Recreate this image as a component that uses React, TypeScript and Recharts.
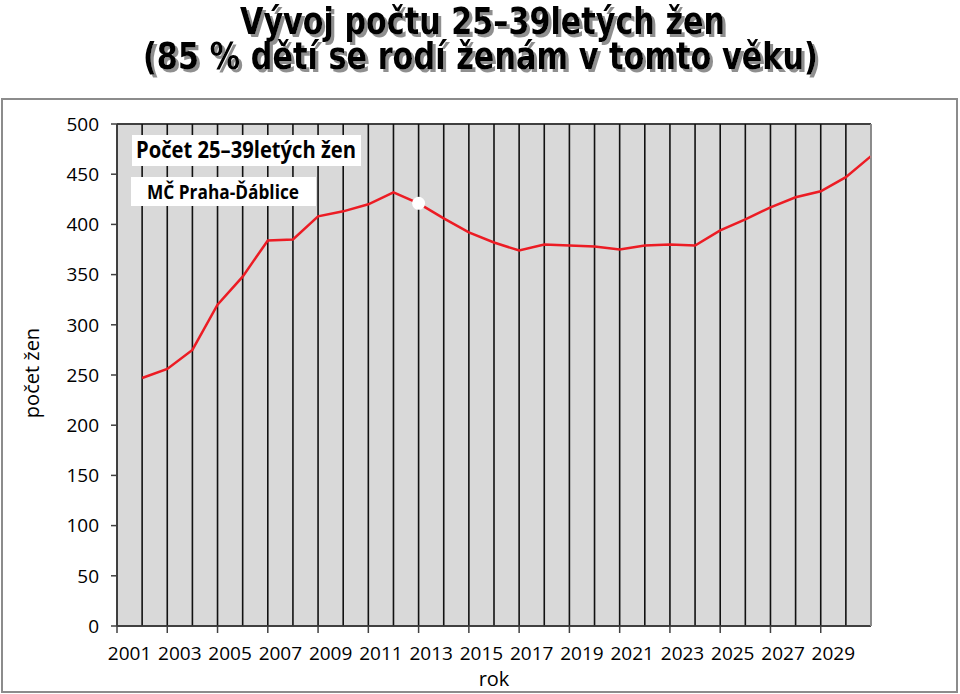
import React from 'react';
import { LineChart, Line, XAxis, YAxis, CartesianGrid, Label } from 'recharts';

// ---- data ----
const YEARS: number[] = [
  2002, 2003, 2004, 2005, 2006, 2007, 2008, 2009, 2010, 2011,
  2012, 2013, 2014, 2015, 2016, 2017, 2018, 2019, 2020, 2021,
  2022, 2023, 2024, 2025, 2026, 2027, 2028, 2029, 2030, 2031,
];
const WOMEN_25_39: number[] = [
  247, 256, 275, 320, 348, 384, 385, 408, 413, 420,
  432, 421, 406, 392, 382, 374, 380, 379, 378, 375,
  379, 380, 379, 394, 405, 417, 427, 433, 447, 468,
];
const HIGHLIGHT_YEAR = 2013;
const X_LABELS: number[] = [
  2001, 2003, 2005, 2007, 2009, 2011, 2013, 2015, 2017, 2019,
  2021, 2023, 2025, 2027, 2029,
];
const Y_TICKS: number[] = [0, 50, 100, 150, 200, 250, 300, 350, 400, 450, 500];
const X_MIN = 2001;
const X_MAX = 2031;

const TITLE_1 = 'Vývoj počtu 25–39letých žen';
const TITLE_2 = '(85 % dětí se rodí ženám v tomto věku)';
const BOX_1 = 'Počet 25–39letých žen';
const BOX_2 = 'MČ Praha-Ďáblice';
const Y_LABEL = 'počet žen';
const X_LABEL = 'rok';

const data = YEARS.map((year, i) => ({ year, value: WOMEN_25_39[i] }));
const gridYears: number[] = [];
for (let y = X_MIN; y <= X_MAX; y++) gridYears.push(y);

// ---- layout ----
const W = 960;
const H = 694;
const MARGIN = { top: 124, right: 29, bottom: 8, left: 17 };
const LEFT_AXIS_W = 100;
const RIGHT_AXIS_W = 60;
const X_AXIS_H = 60;
const PLOT_W = W - MARGIN.left - MARGIN.right - LEFT_AXIS_W - RIGHT_AXIS_W;
const HALF_CAT = PLOT_W / (X_MAX - X_MIN) / 2;

const FONT = '"Open Sans", sans-serif';
const TICK_FS = 19;

const XTick = (props: any) => {
  const { x, y, payload } = props;
  const t = payload?.value;
  if (!X_LABELS.includes(t)) return <g />;
  return (
    <g>
      <line x1={x} y1={y} x2={x} y2={y + 7} stroke="#404040" strokeWidth={1.5} />
      <text x={x + HALF_CAT} y={y + 34} textAnchor="middle" fontFamily={FONT} fontSize={TICK_FS} fill="#000">
        {t}
      </text>
    </g>
  );
};

const renderDot = (props: any) => {
  const { cx, cy, payload, index } = props;
  if (payload && payload.year === HIGHLIGHT_YEAR) {
    return <circle key={`d${index}`} cx={cx} cy={cy} r={6.5} fill="#ffffff" stroke="none" />;
  }
  return <g key={`d${index}`} />;
};

export default function App() {
  return (
    <div style={{ position: 'absolute', left: 0, top: 0, width: W, height: H, background: '#fff' }}>
      <div
        style={{
          position: 'absolute',
          left: 1,
          top: 98,
          width: 957,
          height: 595,
          boxSizing: 'border-box',
          border: '2px solid #8c8c8c',
        }}
      />
      <div style={{ position: 'absolute', left: 0, top: 0 }}>
        <LineChart width={W} height={H} data={data} margin={MARGIN}>
          <CartesianGrid
            fill="#d9d9d9"
            vertical={false}
            stroke="#404040"
            strokeWidth={2}
            strokeOpacity={1}
          />
          <CartesianGrid
            horizontal={false}
            stroke="#111111"
            strokeWidth={1.6}
            fillOpacity={0}
          />
          <XAxis
            dataKey="year"
            type="number"
            domain={[X_MIN, X_MAX]}
            ticks={gridYears}
            interval={0}
            height={X_AXIS_H}
            tickSize={0}
            tickMargin={0}
            tickLine={false}
            axisLine={{ stroke: '#404040', strokeWidth: 1.5 }}
            tick={<XTick />}
          >
            <Label
              content={(p: any) => {
                const vb = p.viewBox || {};
                return (
                  <text
                    x={vb.x + vb.width / 2}
                    y={686}
                    textAnchor="middle"
                    fontFamily={FONT}
                    fontSize={20}
                    fill="#000"
                  >
                    {X_LABEL}
                  </text>
                );
              }}
            />
          </XAxis>
          <YAxis
            yAxisId="left"
            domain={[0, 500]}
            ticks={Y_TICKS}
            interval={0}
            width={LEFT_AXIS_W}
            tickSize={6}
            tickMargin={12}
            tickLine={{ stroke: '#404040', strokeWidth: 1.5 }}
            axisLine={{ stroke: '#404040', strokeWidth: 1.5 }}
            tick={{ fill: '#000', fontSize: TICK_FS, fontFamily: FONT }}
          >
            <Label
              content={(p: any) => {
                const vb = p.viewBox || {};
                const cy = vb.y + vb.height / 2 - 2;
                return (
                  <text
                    x={39}
                    y={cy}
                    transform={`rotate(-90, 39, ${cy})`}
                    textAnchor="middle"
                    fontFamily={FONT}
                    fontSize={20}
                    fill="#000"
                  >
                    {Y_LABEL}
                  </text>
                );
              }}
            />
          </YAxis>
          <YAxis
            yAxisId="right"
            orientation="right"
            domain={[0, 500]}
            ticks={Y_TICKS}
            interval={0}
            width={RIGHT_AXIS_W}
            tickSize={7}
            tickMargin={14}
            tickLine={{ stroke: '#a6a6a6', strokeWidth: 1.5 }}
            axisLine={{ stroke: '#a6a6a6', strokeWidth: 1.5 }}
            tick={{ fill: '#000', fontSize: TICK_FS, fontFamily: FONT, textAnchor: 'start' }}
          />
          <Line
            yAxisId="left"
            type="linear"
            dataKey="value"
            stroke="#ec1c24"
            strokeWidth={2.5}
            dot={renderDot}
            activeDot={false}
            isAnimationActive={false}
          />
        </LineChart>
      </div>
      <svg
        width={W}
        height={H}
        style={{ position: 'absolute', left: 0, top: 0, pointerEvents: 'none' }}
      >
        <defs>
          <filter id="titleShadow" x="-5%" y="-20%" width="110%" height="150%">
            <feDropShadow dx={3} dy={3} stdDeviation={0.6} floodColor="#8f8f8f" floodOpacity={1} />
          </filter>
        </defs>
        <g fontFamily='"DejaVu Sans", sans-serif' fontWeight={700} fontSize={38} filter="url(#titleShadow)">
          <text x={240} y={34} fill="#000" textLength={485} lengthAdjust="spacingAndGlyphs">
            {TITLE_1}
          </text>
          <text x={143} y={69} fill="#000" textLength={675} lengthAdjust="spacingAndGlyphs">
            {TITLE_2}
          </text>
        </g>
        <rect x={132} y={135} width={229} height={31} fill="#fff" />
        <text
          x={136}
          y={158}
          fontFamily={FONT}
          fontWeight={700}
          fontSize={23}
          fill="#000"
          textLength={220}
          lengthAdjust="spacingAndGlyphs"
        >
          {BOX_1}
        </text>
        <rect x={131} y={177} width={185} height={29} fill="#fff" />
        <text
          x={147}
          y={199}
          fontFamily={FONT}
          fontWeight={700}
          fontSize={20}
          fill="#000"
          textLength={152}
          lengthAdjust="spacingAndGlyphs"
        >
          {BOX_2}
        </text>
      </svg>
    </div>
  );
}
